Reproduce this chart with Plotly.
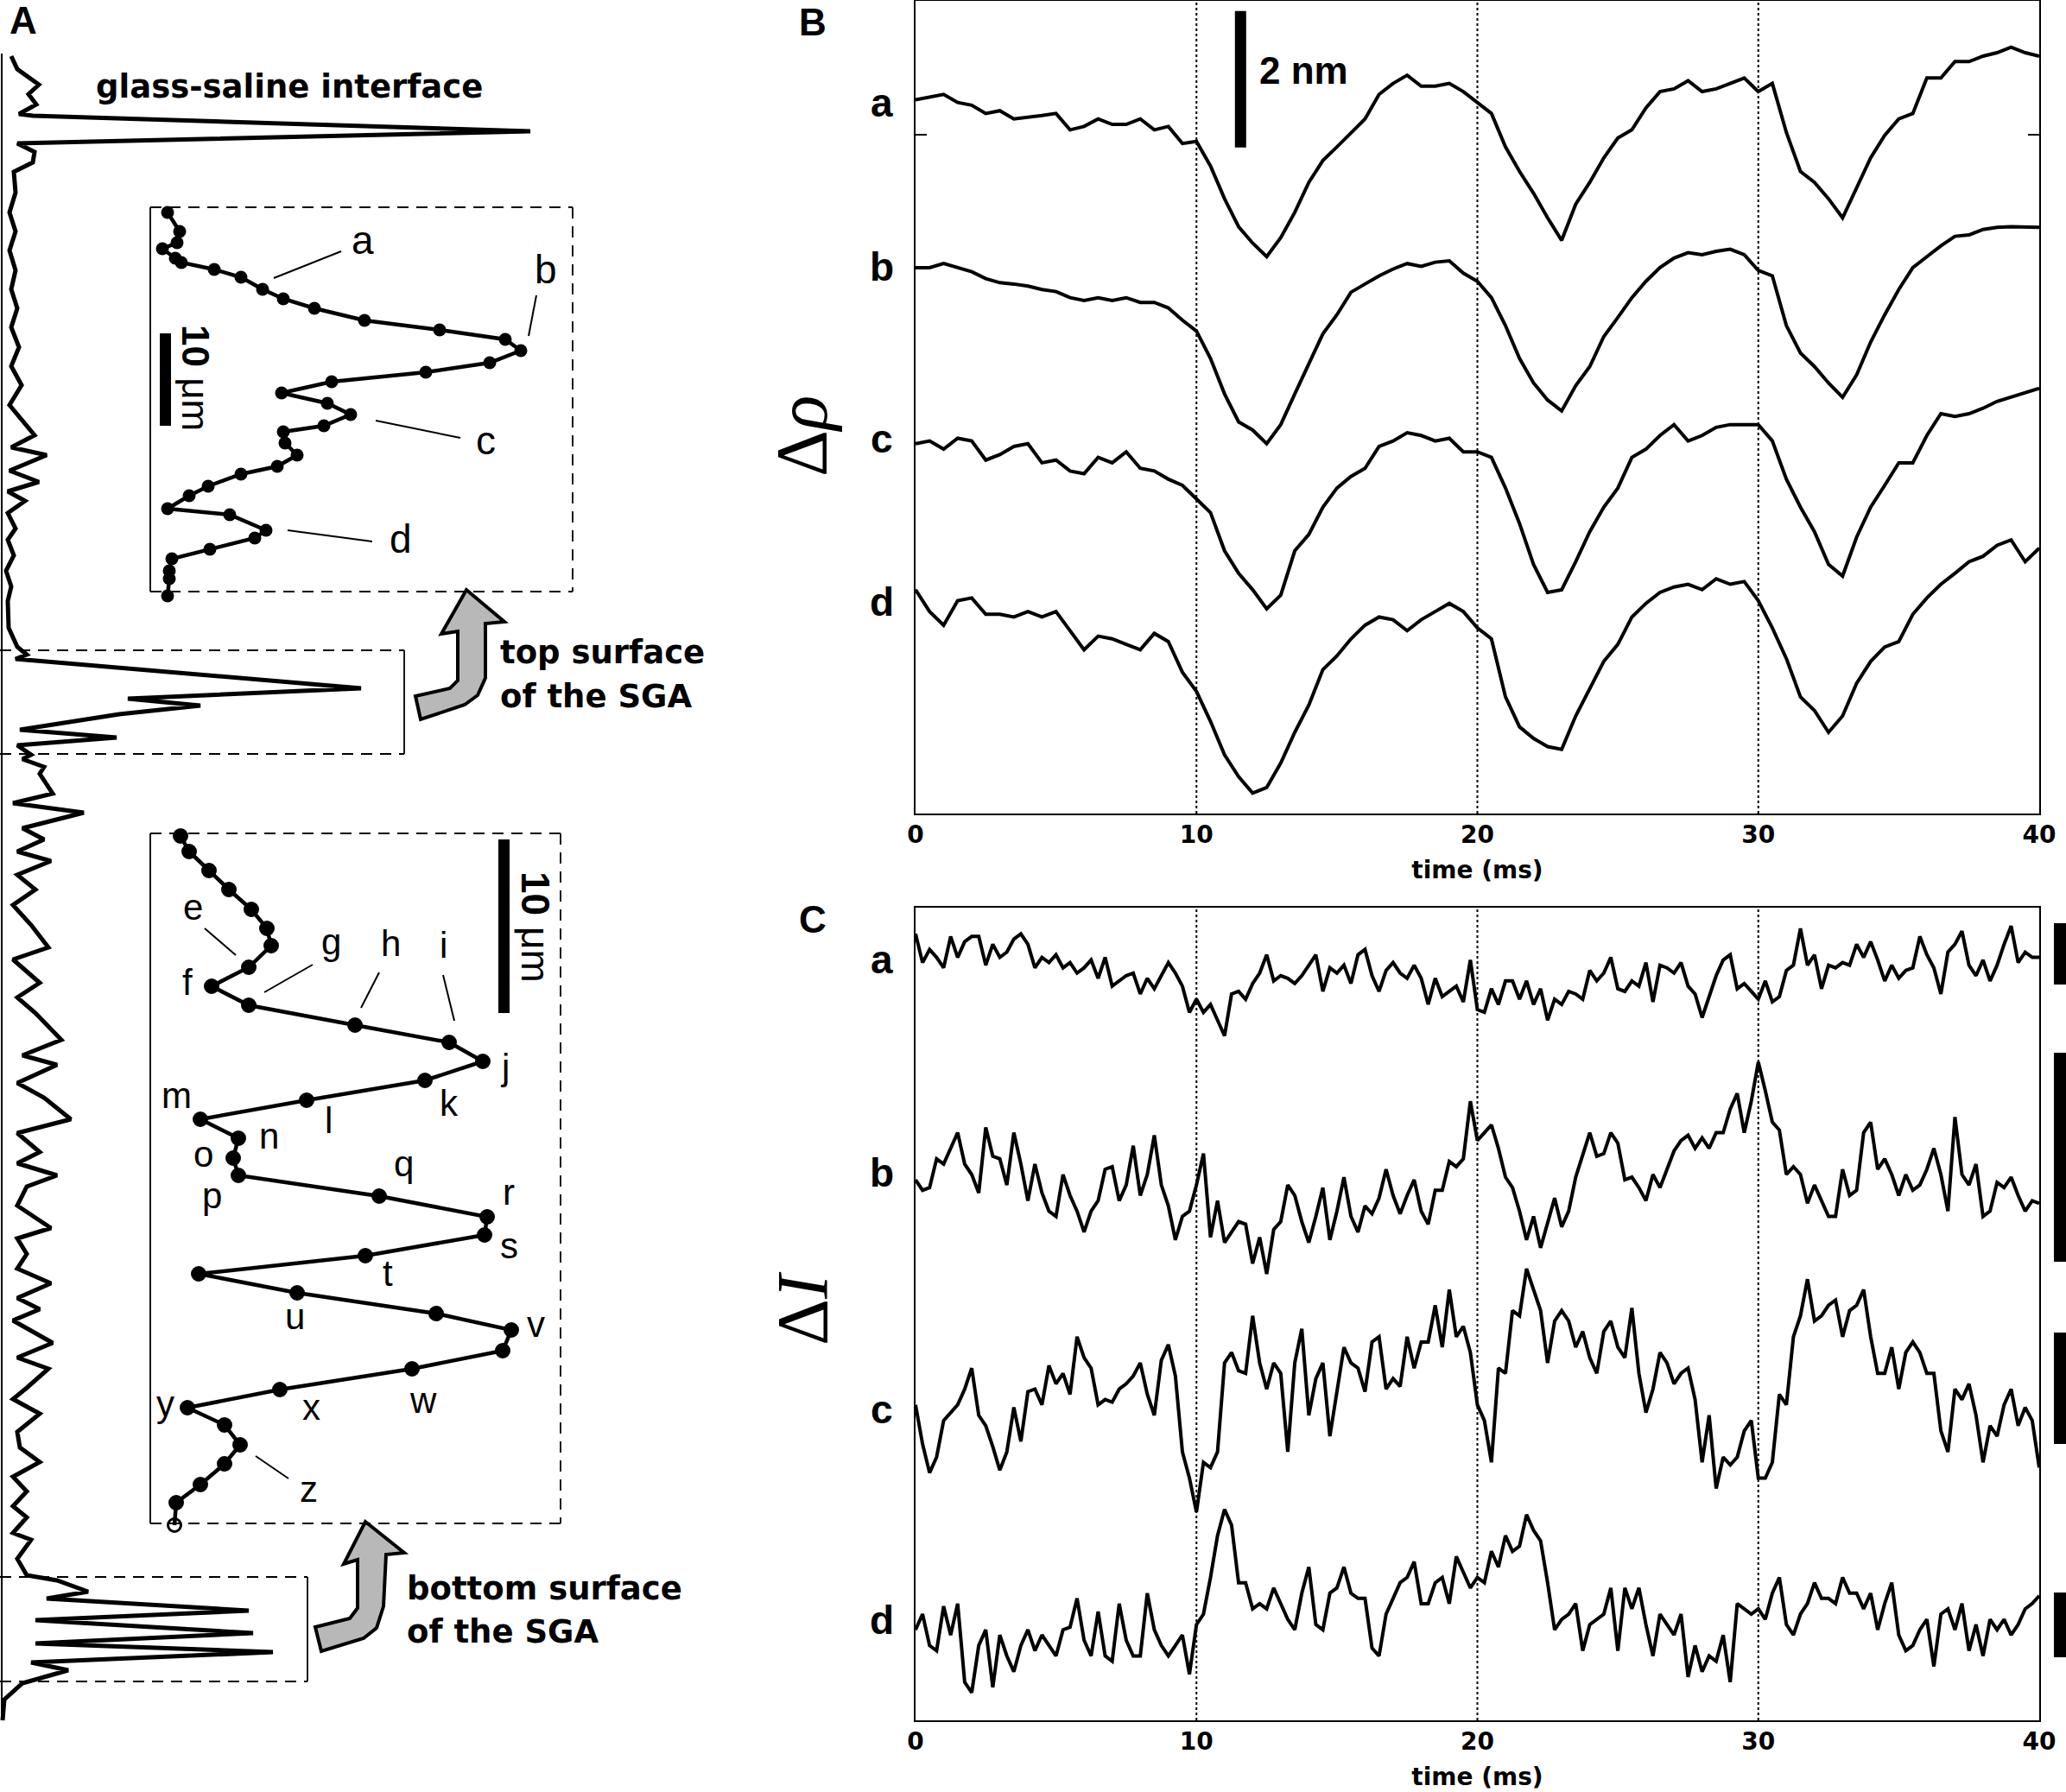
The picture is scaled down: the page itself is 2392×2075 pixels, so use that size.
import numpy as np
import plotly.graph_objects as go

W, H = 2392, 2075

# ---------------- Panel A : reflection profile ----------------
PROFILE_DEPTH = [65,80,98,109,121,132,134,152,166,176,
                 188,199,223,246,268,290,313,335,357,379,
                 402,424,446,469,504,518,527,545,558,569,
                 580,594,612,625,643,661,679,696,727,749,
                 758,763,797,809,817,827,845,854,863,874,
                 879,888,896,919,930,941,959,972,986,997,
                 1013,1030,1048,1071,1097,1111,1138,1155,1173,1204,
                 1222,1233,1254,1271,1296,1312,1334,1347,1361,1374,
                 1396,1422,1434,1452,1469,1486,1503,1516,1529,1555,
                 1572,1585,1607,1620,1637,1658,1676,1693,1710,1727,
                 1744,1757,1775,1783,1805,1824,1830,1843,1851,1865,
                 1876,1891,1903,1913,1925,1934,1949,1968,1992]
PROFILE_INTENSITY = [13,20,45,33,42,22,38,614,20,40,
                     38,16,18,11,18,11,18,13,20,13,
                     22,13,25,11,40,13,54,11,45,9,
                     29,9,18,9,16,7,13,9,10,20,
                     31,18,418,148,232,138,23,135,20,36,
                     26,51,46,61,15,97,26,51,20,59,
                     20,41,15,36,56,15,46,20,41,71,
                     26,66,20,51,82,20,46,20,66,31,
                     20,59,20,31,20,59,20,46,15,61,
                     20,56,31,15,46,20,23,46,15,31,
                     15,31,15,36,20,31,66,102,54,288,
                     41,293,41,316,36,79,26,5,3]

TOP_INSET_X = [194,208,205,188,203,210,248,279,304,328,364,422,509,585,603,567,493,384,326,
               379,406,375,328,330,344,321,279,241,219,194,266,308,295,243,199,196,196,194]
TOP_INSET_Y = [246,268,281,288,299,304,312,321,335,346,357,371,382,393,406,420,431,442,455,
               467,480,493,500,513,527,540,549,563,574,589,596,614,623,636,647,661,670,690]

BOT_INSET_X = [209,219,242,265,291,309,314,288,245,288,411,520,559,492,355,232,276,270,276,
               439,564,561,423,230,344,505,592,582,477,324,217,260,278,260,232,204,202]
BOT_INSET_Y = [968,986,1008,1030,1053,1075,1095,1120,1142,1164,1187,1207,1229,1251,1274,1296,1318,1341,1361,
               1385,1409,1430,1454,1475,1497,1521,1540,1564,1585,1609,1630,1650,1673,1695,1719,1740,1766]

# ---------------- Panel B : displacement traces (nm, stacked) ----------------
B_TIME = np.linspace(0, 40, 81)
B_A = [10.46,10.50,10.54,10.42,10.38,10.26,10.30,10.18,10.20,10.23,
       10.26,10.02,10.07,10.18,10.10,10.10,10.18,10.02,10.07,9.82,
       9.85,9.49,9.01,8.60,8.36,8.16,8.44,8.81,9.25,9.57,
       9.77,9.98,10.18,10.54,10.70,10.82,10.66,10.66,10.70,10.58,
       10.42,10.26,9.77,9.41,9.09,8.73,8.40,8.93,9.25,9.61,
       9.90,10.02,10.34,10.58,10.62,10.74,10.58,10.62,10.70,10.78,
       10.58,10.70,9.98,9.41,9.25,9.01,8.73,9.17,9.61,9.94,
       10.18,10.26,10.78,10.78,11.02,11.02,11.10,11.15,11.23,11.15,
       11.10]
B_B = [8.00,8.00,8.06,8.00,7.94,7.84,7.78,7.76,7.73,7.68,
       7.65,7.56,7.52,7.56,7.52,7.56,7.49,7.49,7.41,7.23,
       7.07,6.67,6.15,5.74,5.62,5.42,5.70,6.15,6.59,7.03,
       7.31,7.64,7.76,7.88,7.98,8.06,8.02,8.08,8.10,7.92,
       7.80,7.56,7.15,6.67,6.31,6.06,5.90,6.27,6.55,6.99,
       7.27,7.56,7.80,8.00,8.14,8.22,8.19,8.24,8.27,8.19,
       7.96,7.88,7.15,6.75,6.55,6.31,6.10,6.43,6.91,7.31,
       7.68,8.00,8.16,8.32,8.46,8.48,8.56,8.59,8.60,8.59,
       8.59]
B_C = [5.42,5.46,5.34,5.50,5.46,5.18,5.26,5.38,5.42,5.14,
       5.18,5.02,4.98,5.22,5.14,5.30,5.06,5.02,4.90,4.81,
       4.61,4.41,3.85,3.52,3.28,3.00,3.20,3.85,4.09,4.49,
       4.77,4.94,5.06,5.38,5.46,5.58,5.54,5.46,5.50,5.30,
       5.30,5.22,4.77,4.25,3.65,3.24,3.28,3.69,4.13,4.49,
       4.77,5.22,5.34,5.54,5.70,5.46,5.54,5.66,5.70,5.70,
       5.70,5.46,4.90,4.49,4.13,3.65,3.48,4.05,4.49,4.81,
       5.14,5.14,5.54,5.86,5.82,5.86,5.94,6.04,6.10,6.17,
       6.23]
B_D = [3.28,2.96,2.76,3.12,3.16,2.92,2.92,2.88,2.96,2.88,
       2.96,2.68,2.40,2.60,2.56,2.48,2.40,2.64,2.52,2.07,
       1.79,1.35,0.86,0.54,0.30,0.38,0.74,1.19,1.59,2.11,
       2.31,2.56,2.76,2.88,2.84,2.68,2.84,2.96,3.08,2.96,
       2.72,2.56,1.71,1.27,1.10,0.98,0.94,1.43,1.83,2.23,
       2.48,2.88,3.08,3.24,3.32,3.36,3.28,3.44,3.36,3.40,
       3.12,2.72,2.27,1.71,1.51,1.19,1.43,1.91,2.23,2.44,
       2.52,2.92,3.16,3.36,3.52,3.69,3.77,3.93,4.01,3.69,
       3.89]

# ---------------- Panel C : intensity traces (a.u., stacked) ----------------
C_TIME = np.linspace(0, 40, 161)
C_A = [15.40,14.85,15.10,14.95,14.75,15.35,14.95,15.25,15.35,15.35,
       14.80,15.20,14.95,15.05,15.30,15.40,15.20,14.75,14.95,14.85,
       15.00,14.75,14.85,14.65,14.75,14.90,14.55,14.95,14.40,14.50,
       14.60,14.65,14.25,14.55,14.35,14.60,14.85,14.65,14.40,13.90,
       14.15,
       13.90,14.05,13.75,13.45,14.25,14.30,14.15,14.45,14.65,15.00,
       14.50,14.60,14.55,14.45,14.60,14.80,15.00,14.30,14.75,14.65,
       14.80,14.45,15.00,15.10,14.60,14.30,14.70,14.85,14.65,14.55,
       14.80,14.55,14.05,14.55,14.20,14.30,14.40,14.10,14.90,13.95,
       13.90,14.35,14.05,14.50,14.50,14.15,14.50,14.05,14.35,13.75,
       14.15,14.05,14.30,14.25,14.15,14.70,14.50,14.65,14.95,14.35,
       14.30,14.50,14.40,14.85,14.10,14.80,14.75,14.65,14.85,14.40,
       14.25,13.80,14.20,14.60,14.90,15.00,14.35,14.45,14.30,14.15,
       14.50,14.10,14.20,14.70,14.80,15.50,14.80,15.00,14.35,14.80,
       14.75,14.85,14.80,15.20,14.95,15.25,14.90,14.50,14.80,14.55,
       14.70,14.75,15.35,15.00,14.75,14.25,15.05,15.20,15.45,14.80,
       14.60,14.90,14.50,14.80,15.20,15.55,14.85,15.05,14.95,14.95]
C_B = [10.70,10.50,10.55,11.10,11.00,11.30,11.60,11.00,10.80,10.45,
       11.70,11.15,11.10,10.60,11.60,11.00,10.30,11.00,10.45,10.10,
       10.00,10.80,10.40,10.10,9.70,10.10,10.30,10.90,10.95,10.30,
       10.60,11.35,10.40,10.80,11.55,10.60,10.20,9.55,10.00,10.10,
       10.60,
       11.20,9.60,10.30,9.50,9.70,9.90,9.85,9.10,9.60,8.90,
       9.75,9.90,10.60,10.40,9.90,9.50,10.00,10.55,9.55,10.10,
       10.75,10.00,9.70,10.20,10.05,10.35,10.90,10.40,10.05,10.40,
       10.70,10.10,9.85,10.50,10.50,11.05,10.95,11.10,12.20,11.45,
       11.60,11.75,11.30,10.75,10.55,10.10,9.55,10.00,9.40,9.90,
       10.35,9.80,10.10,10.75,11.15,11.60,11.15,11.20,11.60,11.40,
       10.70,10.75,10.55,10.30,10.80,10.55,10.90,11.25,11.45,11.55,
       11.30,11.50,11.30,11.60,11.60,12.05,12.35,11.60,12.20,12.95,
       12.40,11.80,11.65,10.80,10.95,10.80,10.25,10.60,10.30,10.00,
       10.00,10.90,10.40,10.50,11.60,11.80,10.90,11.10,10.80,10.40,
       10.80,10.50,10.60,10.90,11.30,10.80,10.10,11.90,10.80,10.60,
       11.00,10.00,10.10,10.65,10.55,10.75,10.40,10.10,10.30,10.25]
C_C = [6.40,5.65,5.10,5.40,6.10,6.25,6.40,6.70,7.10,6.20,
       6.00,5.60,5.15,5.50,6.35,5.70,6.65,6.70,6.40,7.15,
       6.80,7.00,6.60,7.70,7.30,7.10,6.40,6.50,6.45,6.70,
       6.80,6.95,7.20,6.60,6.20,7.25,7.55,6.95,5.50,5.00,
       4.35,
       5.30,5.20,5.50,7.20,7.40,7.05,7.00,8.10,7.20,6.70,
       7.20,7.00,5.50,7.20,7.85,6.20,6.90,7.20,5.80,6.70,
       7.50,7.20,7.10,6.65,7.60,7.70,6.70,6.90,6.75,7.70,
       7.10,7.60,7.60,8.30,7.50,8.60,7.70,7.90,7.40,6.40,
       6.10,5.30,7.10,7.00,8.20,8.10,9.00,8.60,8.20,7.20,
       8.00,8.20,8.00,7.50,7.80,7.30,7.00,7.80,8.00,7.50,
       7.30,8.25,7.00,6.25,6.70,7.40,7.20,6.80,7.00,7.10,
       6.50,5.30,6.20,4.80,5.40,5.25,5.40,5.90,6.10,5.00,
       5.00,5.30,6.60,6.40,7.70,8.10,8.80,8.00,8.10,8.30,
       8.40,7.70,8.20,8.30,8.60,7.70,7.00,7.00,7.50,6.70,
       7.40,7.60,7.40,7.00,7.00,5.90,5.50,6.70,6.50,6.80,
       6.20,5.30,6.00,5.80,6.40,6.70,6.00,6.35,6.10,5.20]
C_D = [2.10,2.40,1.80,1.70,2.55,2.00,2.60,1.10,0.90,1.80,
       2.10,1.00,2.00,1.60,1.30,1.80,2.10,1.70,2.00,1.80,
       1.60,2.10,2.15,2.70,1.90,1.60,2.45,1.60,1.50,2.60,
       1.90,1.60,1.60,2.80,2.10,1.80,1.60,1.80,2.00,1.25,
       2.20,
       2.40,3.10,3.90,4.40,4.10,3.00,3.00,2.50,2.60,2.50,
       2.90,2.60,2.30,2.10,2.80,3.30,2.20,2.10,2.80,2.90,
       3.30,2.80,2.70,2.70,1.75,1.60,2.40,2.70,3.00,3.10,
       3.40,2.60,2.60,3.00,3.10,2.60,3.50,3.20,2.90,3.10,
       3.00,3.60,3.30,3.90,3.60,3.70,4.30,4.00,3.80,3.00,
       2.10,2.30,2.40,2.60,1.70,2.20,2.30,2.40,2.90,1.70,
       2.90,2.50,2.90,2.20,1.60,2.40,2.20,2.00,2.40,1.20,
       1.80,1.30,1.60,1.50,2.00,1.10,2.60,2.50,2.40,2.50,
       2.30,2.80,3.10,2.20,2.00,2.40,2.60,3.00,2.70,2.70,
       2.60,3.10,2.80,2.80,2.50,2.80,2.10,2.60,3.00,2.00,
       1.70,1.80,2.10,2.30,1.40,2.40,2.50,2.10,2.60,1.70,
       2.20,1.60,2.30,2.10,2.30,2.00,2.20,2.50,2.60,2.75]

TRACE_LABELS = ["a", "b", "c", "d"]
TIME_TICKS = [0, 10, 20, 30, 40]
EVENT_TIMES = [10, 20, 30]
SCALE_NM = 2.0

# ---------------- helpers (pixel -> paper) ----------------
def PX(x):
    return x / W

def PY(y):
    return 1 - y / H

FONT = "Arial, Liberation Sans, Helvetica, sans-serif"
BOLDFONT = "DejaVu Sans, Verdana, sans-serif"
SERIF = "Times New Roman, Liberation Serif, serif"

fig = go.Figure()

# Panel A traces
fig.add_trace(go.Scatter(x=PROFILE_INTENSITY, y=PROFILE_DEPTH, mode="lines",
                         line=dict(color="black", width=5), xaxis="x", yaxis="y", hoverinfo="skip"))
fig.add_trace(go.Scatter(x=TOP_INSET_X, y=TOP_INSET_Y, mode="lines+markers",
                         line=dict(color="black", width=4.5), marker=dict(color="black", size=15),
                         xaxis="x", yaxis="y", hoverinfo="skip"))
bot_symbols = ["circle"] * (len(BOT_INSET_X) - 1) + ["circle-open"]
fig.add_trace(go.Scatter(x=BOT_INSET_X, y=BOT_INSET_Y, mode="lines+markers",
                         line=dict(color="black", width=4.5),
                         marker=dict(color="black", size=15, symbol=bot_symbols, line=dict(width=3, color="black")),
                         xaxis="x", yaxis="y", hoverinfo="skip"))

# Panel B traces
for ys in (B_A, B_B, B_C, B_D):
    fig.add_trace(go.Scatter(x=B_TIME, y=ys, mode="lines", line=dict(color="black", width=4),
                             xaxis="x2", yaxis="y2", hoverinfo="skip"))
# Panel C traces
for ys in (C_A, C_B, C_C, C_D):
    fig.add_trace(go.Scatter(x=C_TIME, y=ys, mode="lines", line=dict(color="black", width=4),
                             xaxis="x3", yaxis="y3", hoverinfo="skip"))

shapes = []
# vertical dotted event lines
for t in EVENT_TIMES:
    for ax in ("2", "3"):
        shapes.append(dict(type="line", xref="x" + ax, yref="y" + ax + " domain", x0=t, x1=t, y0=0, y1=1,
                           line=dict(color="black", width=2, dash="3px,3px")))
# 2 nm scale bar in B
bar_t = (1436 - 1060) / 32.5
shapes.append(dict(type="line", xref="x2", yref="y2", x0=bar_t, x1=bar_t, y0=9.76, y1=9.76 + SCALE_NM,
                   line=dict(color="black", width=13)))

def pline(x0, y0, x1, y1, width=1.8, dash=None, color="black"):
    d = dict(type="line", xref="paper", yref="paper", x0=PX(x0), y0=PY(y0), x1=PX(x1), y1=PY(y1),
             line=dict(color=color, width=width))
    if dash:
        d["line"]["dash"] = dash
    return d

def prect(x0, y0, x1, y1, color="black"):
    return dict(type="rect", xref="paper", yref="paper", x0=PX(x0), y0=PY(y0), x1=PX(x1), y1=PY(y1),
                line=dict(width=0), fillcolor=color)

DASH = "13px,9px"
# panel A axis line
shapes.append(pline(2, 62, 2, 1992, width=2))
# top inset box
shapes += [pline(174, 240, 663, 240, dash=DASH), pline(174, 685, 663, 685, dash=DASH),
           pline(174, 240, 174, 685), pline(663, 240, 663, 685, dash=DASH)]
# top surface box
shapes += [pline(0, 753, 468, 753, dash=DASH), pline(0, 873, 468, 873, dash=DASH), pline(468, 753, 468, 873)]
# bottom inset box
shapes += [pline(174, 965, 649, 965, dash=DASH), pline(174, 1764, 649, 1764, dash=DASH),
           pline(174, 965, 174, 1764), pline(649, 965, 649, 1764, dash=DASH)]
# bottom surface box
shapes += [pline(0, 1826, 356, 1826, dash=DASH), pline(0, 1947, 356, 1947, dash=DASH), pline(356, 1826, 356, 1947)]
# inset scale bars
shapes.append(prect(185, 386, 198, 493))
shapes.append(prect(577, 972, 590, 1173))
# C scale bars (right margin)
for y0, y1 in ((1069, 1140), (1219, 1461), (1543, 1672), (1844, 1919)):
    shapes.append(prect(2378, y0, 2392, y1))
# leader lines
for seg in [((317, 322), (395, 291)), ((612, 389), (621, 342)), ((435, 487), (533, 507)), ((333, 614), (431, 627)),
            ((237, 1075), (273, 1106)), ((306, 1149), (362, 1117)), ((418, 1167), (439, 1126)),
            ((513, 1129), (526, 1182)), ((296, 1686), (334, 1712))]:
    shapes.append(pline(seg[0][0], seg[0][1], seg[1][0], seg[1][1], width=2))

def arrow_path(pts):
    s = "M " + " L ".join(f"{PX(x):.5f},{PY(y):.5f}" for x, y in pts) + " Z"
    return dict(type="path", xref="paper", yref="paper", path=s, fillcolor="#b8b8b8",
                line=dict(color="black", width=4))

shapes.append(arrow_path([(540, 683), (584, 720), (562, 722), (562, 785), (553, 805), (538, 816), (487, 833),
                          (481, 806), (521, 797), (530, 788), (530, 731), (511, 734)]))
shapes.append(arrow_path([(423, 1762), (468, 1798), (447, 1800), (444, 1860), (436, 1885), (421, 1897),
                          (372, 1912), (365, 1884), (405, 1874), (414, 1862), (414, 1806), (398, 1811)]))

ann = []
def text(t, x, y, size, xanchor="center", yanchor="middle", angle=0, family=FONT, color="black"):
    ann.append(dict(text=t, x=PX(x), y=PY(y), xref="paper", yref="paper", showarrow=False,
                    xanchor=xanchor, yanchor=yanchor, textangle=angle,
                    font=dict(size=size, family=family, color=color)))

# panel letters
text("<b>A</b>", 27, 24, 44)
text("<b>B</b>", 941, 26, 44)
text("<b>C</b>", 941, 1064, 44)
# panel A texts
text("<b>glass-saline interface</b>", 335, 100, 37, family=BOLDFONT)
text("<b>top surface</b>", 577, 756, 37, xanchor="left", family=BOLDFONT)
text("<b>of the SGA</b>", 577, 806, 37, xanchor="left", family=BOLDFONT)
text("<b>bottom surface</b>", 469, 1839, 37, xanchor="left", family=BOLDFONT)
text("<b>of the SGA</b>", 469, 1889, 37, xanchor="left", family=BOLDFONT)
text("<b>10</b> \u03bcm", 227, 437, 44, angle=90)
text("<b>10</b> \u03bcm", 620, 1073, 46, angle=90)
for lab, (x, y) in zip("abcd", [(420, 278), (632, 312), (562, 510), (464, 624)]):
    text(lab, x, y, 46)
bottom_labels = {"e": (224, 1050), "f": (217, 1137), "g": (383, 1090), "h": (452, 1092), "i": (513, 1094),
                 "j": (584, 1235), "k": (520, 1277), "l": (380, 1297), "m": (204, 1268), "n": (311, 1315),
                 "o": (235, 1336), "p": (245, 1384), "q": (467, 1347), "r": (589, 1380), "s": (589, 1442),
                 "t": (449, 1474), "u": (342, 1524), "v": (620, 1533), "w": (490, 1621), "x": (360, 1629),
                 "y": (191, 1625), "z": (357, 1724)}
for lab, (x, y) in bottom_labels.items():
    text(lab, x, y, 42)
# panel B / C texts
text("<b>2 nm</b>", 1456, 82, 44, xanchor="left")
for lab, y in zip(TRACE_LABELS, [119, 309, 508, 697]):
    text("<b>%s</b>" % lab, 1021, y, 46)
for lab, y in zip(TRACE_LABELS, [1111, 1358, 1632, 1876]):
    text("<b>%s</b>" % lab, 1021, y, 46)
text("\u0394<i>\u03c1</i>", 929, 505, 84, angle=-90, family=SERIF)
text("\u0394<i>I</i>", 929, 1515, 84, angle=-90, family=SERIF)

tick_text = ["<b>%d</b>" % v for v in TIME_TICKS]
xcommon = dict(range=[0, 40], showline=True, mirror=True, linecolor="black", linewidth=2,
               showgrid=False, zeroline=False, ticks="", tickvals=TIME_TICKS, ticktext=tick_text,
               tickfont=dict(size=28, family=BOLDFONT, color="black"), ticklabelstandoff=-2,
               title=dict(text="<b>time (ms)</b>", font=dict(size=28, family=BOLDFONT, color="black"), standoff=16),
               automargin=False, domain=[1060 / W, 2361 / W], fixedrange=True)

fig.update_layout(
    width=W, height=H, autosize=False,
    margin=dict(l=0, r=0, t=0, b=0, pad=0),
    paper_bgcolor="white", plot_bgcolor="white", showlegend=False,
    xaxis=dict(domain=[0, 700 / W], range=[0, 700], visible=False, fixedrange=True),
    yaxis=dict(domain=[0, 1], range=[H, 0], visible=False, fixedrange=True),
    xaxis2=dict(anchor="y2", **xcommon),
    yaxis2=dict(anchor="x2", domain=[1 - 942 / H, 1 - 1 / H], range=[0, 11.91], showline=True, mirror="ticks",
                linecolor="black", linewidth=2, showgrid=False, zeroline=False, ticks="inside", ticklen=13,
                tickwidth=2, tickcolor="black", tickvals=[9.95], showticklabels=False, automargin=False,
                fixedrange=True),
    xaxis3=dict(anchor="y3", **xcommon),
    yaxis3=dict(anchor="x3", domain=[1 - 1992 / H, 1 - 1051 / H], range=[0.37, 15.90], showline=True,
                mirror=True, linecolor="black", linewidth=2, showgrid=False, zeroline=False, ticks="",
                showticklabels=False, automargin=False, fixedrange=True),
    shapes=shapes, annotations=ann,
)

fig.write_html("out.html", config={"displayModeBar": False},
               post_script="document.body.style.margin='0px';document.body.style.overflow='hidden';")
